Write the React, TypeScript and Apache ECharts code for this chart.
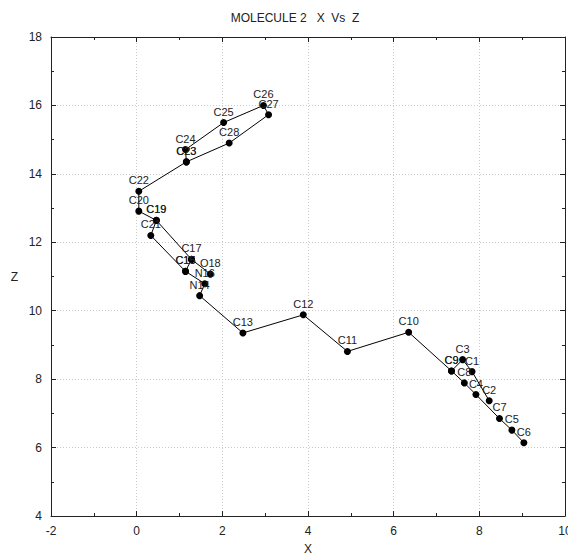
import React, { useEffect, useRef } from "react";
import * as echarts from "echarts";

const atomNames = ["C1","C2","C3","C4","C5","C6","C7","C8","C9","C10","C11","C12","C13","N14","C15","N16","C17","O18","C19","C20","C21","C22","C23","C24","C25","C26","C27","C28"];
const atomX = [7.83, 8.23, 7.61, 7.92, 8.76, 9.04, 8.47, 7.65, 7.35, 6.35, 4.92, 3.89, 2.48, 1.47, 1.14, 1.59, 1.28, 1.72, 0.46, 0.05, 0.33, 0.05, 1.16, 1.14, 2.03, 2.96, 3.08, 2.16];
const atomZ = [8.22, 7.37, 8.57, 7.55, 6.51, 6.14, 6.85, 7.89, 8.24, 9.37, 8.81, 9.88, 9.35, 10.44, 11.15, 10.79, 11.50, 11.07, 12.64, 12.91, 12.20, 13.49, 14.35, 14.71, 15.50, 16.00, 15.73, 14.90];

const chainA = ["C23","C24","C25","C26","C27","C28","C23","C22","C20","C19","C17","O18"];
const chainB = ["C19","C21","C15","N16","N14","C13","C12","C11","C10","C9","C8","C4","C7","C5","C6"];
const chainC = ["C2","C1","C3","C9"];
const chainD = ["C15","C17"];
const chains = [chainA, chainB, chainC, chainD];
// atoms whose label is printed twice in the reference (looks bold)
const doubleLabels = ["C9","C15","C19","C23"];

const xTicks = { min: -2, max: 10, interval: 2 };
const zTicks = { min: 4, max: 18, interval: 2 };

const FONT = "Liberation Sans, Arial, sans-serif";

export default function App() {
  const ref = useRef<HTMLDivElement>(null);
  useEffect(() => {
    if (!ref.current) return;
    const chart = echarts.init(ref.current, undefined, { renderer: "svg" });
    const seen = new Set<string>();
    const pt = (n: string) => {
      const i = atomNames.indexOf(n);
      const show = !seen.has(n) || doubleLabels.includes(n);
      seen.add(n);
      return { name: n, value: [atomX[i], atomZ[i]], label: { show } };
    };
    const axisCommon = {
      type: "value" as const,
      axisLine: { show: true, onZero: false, lineStyle: { color: "#222", width: 1 } },
      axisTick: { show: true, inside: true, length: 5, lineStyle: { color: "#222" } },
      minorTick: { show: true, splitNumber: 2, length: 3, lineStyle: { color: "#222" } },
    };
    const series = chains.map((c) => ({
      type: "line" as const,
      data: c.map(pt),
      symbol: "circle",
      symbolSize: 7,
      itemStyle: { color: "#000" },
      lineStyle: { color: "#000", width: 1 },
      label: {
        show: true,
        position: "top" as const,
        distance: 2,
        formatter: (p: any) => p.name,
        color: "#222",
        fontSize: 11,
        fontFamily: FONT,
      },
      emphasis: { disabled: true },
      z: 3,
    }));
    chart.setOption({
      animation: false,
      backgroundColor: "#fff",
      title: {
        text: "MOLECULE 2   X  Vs  Z",
        left: 282,
        textAlign: "center",
        top: -1,
        textStyle: { fontSize: 12, fontWeight: "normal", color: "#222", fontFamily: FONT },
      },
      grid: { left: 43, right: 11, top: 29, bottom: 44, show: false, containLabel: false, outerBoundsMode: "none" },
      xAxis: [
        {
          ...axisCommon,
          position: "bottom",
          min: xTicks.min,
          max: xTicks.max,
          interval: xTicks.interval,
          name: "X",
          nameLocation: "middle",
          nameGap: 27,
          nameTextStyle: { fontSize: 12, color: "#222", fontFamily: FONT },
          axisLabel: { fontSize: 12, color: "#222", fontFamily: FONT, margin: 9 },
          splitLine: { show: true, lineStyle: { color: "#ccc", type: [1, 2], width: 1 } },
        },
        {
          ...axisCommon,
          position: "top",
          min: xTicks.min,
          max: xTicks.max,
          interval: xTicks.interval,
          axisLabel: { show: false },
          splitLine: { show: false },
        },
      ],
      yAxis: [
        {
          ...axisCommon,
          position: "left",
          min: zTicks.min,
          max: zTicks.max,
          interval: zTicks.interval,
          name: "Z",
          nameLocation: "middle",
          nameGap: 33,
          nameRotate: 0,
          nameTextStyle: { fontSize: 12, color: "#222", fontFamily: FONT },
          axisLabel: { fontSize: 12, color: "#222", fontFamily: FONT, margin: 9 },
          splitLine: { show: true, lineStyle: { color: "#ccc", type: [1, 2], width: 1 } },
        },
        {
          ...axisCommon,
          position: "right",
          min: zTicks.min,
          max: zTicks.max,
          interval: zTicks.interval,
          axisLabel: { show: false },
          splitLine: { show: false },
        },
      ],
      series,
    });
    return () => chart.dispose();
  }, []);
  return <div ref={ref} style={{ width: 568, height: 552 }} />;
}
